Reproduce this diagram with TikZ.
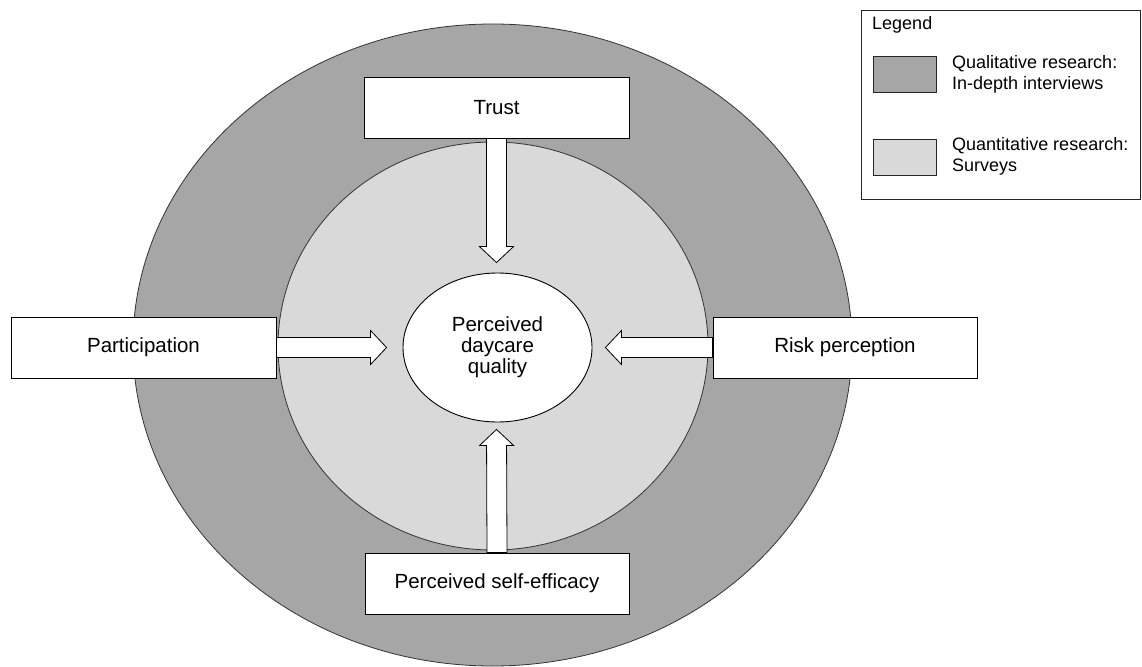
\documentclass[tikz,border=0pt]{standalone}
\usepackage{fontspec}
\setmainfont{Liberation Sans}
\usetikzlibrary{calc,shapes.geometric}
\definecolor{darkring}{HTML}{A6A6A6}
\definecolor{lightring}{HTML}{D9D9D9}
\tikzset{
  factor/.style={draw=black, line width=0.9pt, fill=white, minimum width=265pt, minimum height=61pt, inner sep=0pt,
    font=\fontsize{20.5pt}{21pt}\selectfont},
  arrowbox/.style={draw=black, line width=0.8pt, fill=white, line join=miter},
  ring/.style={draw=black!80, line width=0.8pt},
  legtext/.style={anchor=west, align=left, inner sep=0pt, font=\fontsize{18pt}{21pt}\selectfont},
  swatch/.style={draw=black!85, line width=0.9pt, minimum width=63pt, minimum height=36pt, inner sep=0pt}
}
\newcommand\blockarrow[2]{%
  \coordinate (hb) at ($(#2)!16pt!(#1)$);
  \draw[arrowbox] ($(#1)!10pt!90:(#2)$) -- ($(hb)!10pt!-90:(#1)$) -- ($(hb)!17pt!-90:(#1)$) -- (#2)
    -- ($(hb)!17pt!90:(#1)$) -- ($(hb)!10pt!90:(#1)$) -- ($(#1)!10pt!-90:(#2)$) -- cycle;}
\begin{document}
\begin{tikzpicture}[x=1pt,y=-1pt]
\useasboundingbox (0,0) rectangle (1142,666);
\clip (0,0) rectangle (1142,666);
\fill[white] (0,0) rectangle (1142,666);
% rings
\draw[ring, fill=darkring] (492.5,345) ellipse [x radius=359.5, y radius=321];
\draw[ring, fill=lightring] (493,346) ellipse [x radius=215, y radius=204];
% centre
\node[draw=black, line width=0.9pt, fill=white, ellipse, minimum width=189pt, minimum height=149pt, inner sep=0pt,
  align=center, font=\fontsize{20.5pt}{21pt}\selectfont] (center) at (497.5,347.5) {Perceived\\daycare\\quality};
% factor boxes
\node[factor] (trust) at (496.5,107.5) {Trust};
\node[factor] (part) at (143.5,347.5) {Participation};
\node[factor, minimum width=264pt] (risk) at (845,347.5) {Risk perception};
\node[factor, minimum width=264pt] (self) at (497,583.5) {Perceived self-efficacy};
% arrow tips
\coordinate (tT) at ($(center.north)+(-1,-10)$);
\coordinate (tP) at ($(center.west)+(-16,0)$);
\coordinate (tR) at ($(center.east)+(13,0)$);
\coordinate (tS) at ($(center.south)+(-1,7)$);
\blockarrow{trust.south}{tT}
\blockarrow{part.east}{tP}
\blockarrow{risk.west}{tR}
\blockarrow{self.north}{tS}
% legend
\node[draw=black!85, line width=0.9pt, fill=white, minimum width=279pt, minimum height=189pt, inner sep=0pt] (legend) at (1000.5,104.5) {};
\node[legtext] (legtitle) at (872,25) {Legend};
\node[swatch, fill=darkring] (sw1) at (904.5,74) {};
\node[swatch, fill=lightring] (sw2) at (904.5,157.5) {};
\node[legtext] (lt1) at (952,74.5) {Qualitative research:\\In-depth interviews};
\node[legtext] (lt2) at (952,156) {Quantitative research:\\Surveys};
\end{tikzpicture}
\end{document}
